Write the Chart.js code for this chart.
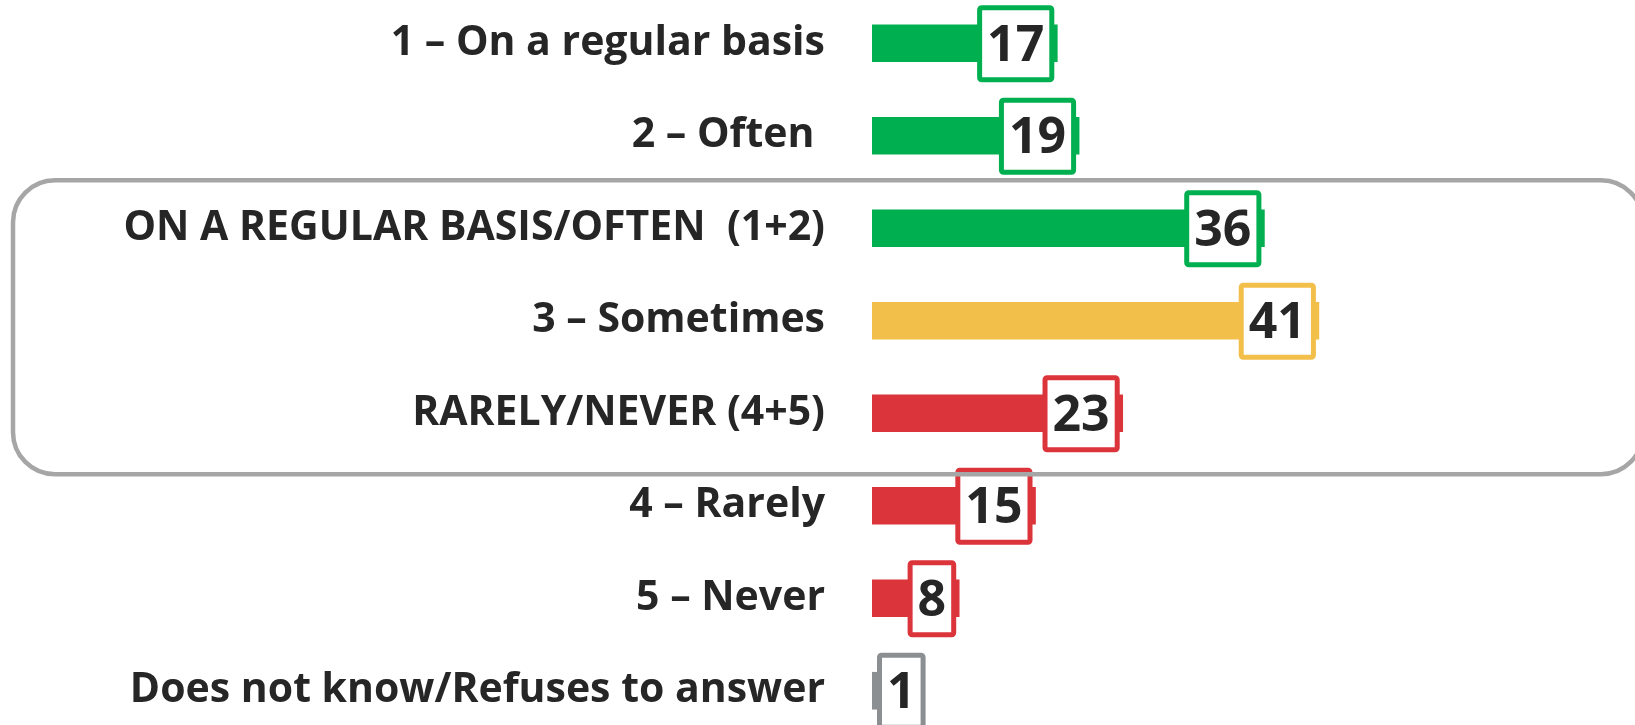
<!DOCTYPE html>
<html>
<head>
<meta charset="utf-8">
<script src="https://cdn.jsdelivr.net/npm/chart.js@4/dist/chart.umd.min.js"></script>
<style>
  html, body { margin: 0; padding: 0; background: #fff; overflow: hidden; }
  #wrap { position: absolute; left: 0; top: -3px; width: 1635px; height: 740px; }
</style>
</head>
<body>
<div id="wrap"><canvas id="freqChart"></canvas></div>
<script>
// ===== data =====
const categories = [
  '1 – On a regular basis',
  '2 – Often ',
  'ON A REGULAR BASIS/OFTEN  (1+2)',
  '3 – Sometimes',
  'RARELY/NEVER (4+5)',
  '4 – Rarely',
  '5 – Never',
  'Does not know/Refuses to answer'
];
const values = [17, 19, 36, 41, 23, 15, 8, 1];
const barColors = ['#00B050', '#00B050', '#00B050', '#F2BF4B', '#DC343B', '#DC343B', '#DC343B', '#8C8F92'];

// ===== value boxes at the end of each bar =====
const valueBoxes = {
  id: 'valueBoxes',
  afterDatasetsDraw(chart) {
    const ctx = chart.ctx;
    const meta = chart.getDatasetMeta(0);
    ctx.save();
    ctx.font = "bold 50px 'Open Sans', sans-serif";
    meta.data.forEach((bar, i) => {
      const txt = String(values[i]);
      const w = ctx.measureText(txt).width + 20;
      const h = 77;
      const right = Math.max(bar.x - 3, bar.base + 5 + w);
      const left = right - w;
      const top = bar.y - 38;
      ctx.beginPath();
      ctx.roundRect(left + 2.5, top + 2.5, w - 5, h - 5, 2);
      ctx.fillStyle = '#fff';
      ctx.fill();
      ctx.lineWidth = 5;
      ctx.strokeStyle = barColors[i];
      ctx.stroke();
      ctx.fillStyle = '#262626';
      ctx.textAlign = 'center';
      ctx.textBaseline = 'middle';
      ctx.fillText(txt, left + w / 2, bar.y + 3);
    });
    ctx.restore();
  }
};

// ===== grouped rows frame =====
const groupFrame = {
  id: 'groupFrame',
  afterDraw(chart) {
    const ctx = chart.ctx;
    const y = chart.scales.y;
    const top = y.getPixelForValue(2) - 48;
    const bottom = y.getPixelForValue(4) + 61;
    ctx.save();
    ctx.beginPath();
    ctx.roundRect(13, top, 1630, bottom - top, 42);
    ctx.lineWidth = 4.5;
    ctx.strokeStyle = '#A6A6A6';
    ctx.stroke();
    ctx.restore();
  }
};

new Chart(document.getElementById('freqChart'), {
  type: 'bar',
  data: {
    labels: categories,
    datasets: [{
      data: values,
      backgroundColor: barColors,
      borderWidth: 0,
      barThickness: 37
    }]
  },
  options: {
    indexAxis: 'y',
    responsive: true,
    maintainAspectRatio: false,
    animation: false,
    layout: { padding: 0 },
    plugins: {
      legend: { display: false },
      tooltip: { enabled: false }
    },
    scales: {
      x: {
        display: false,
        min: 0,
        max: 70
      },
      y: {
        afterFit: (scale) => {
          scale.width = 872;
          scale.paddingTop = 0;
          scale.paddingBottom = 0;
        },
        grid: { display: false, drawTicks: false },
        border: { display: false },
        ticks: {
          padding: 47,
          color: '#262626',
          font: { family: "'Open Sans', sans-serif", size: 41, weight: 'bold' }
        }
      }
    }
  },
  plugins: [valueBoxes, groupFrame]
});
</script>
</body>
</html>
